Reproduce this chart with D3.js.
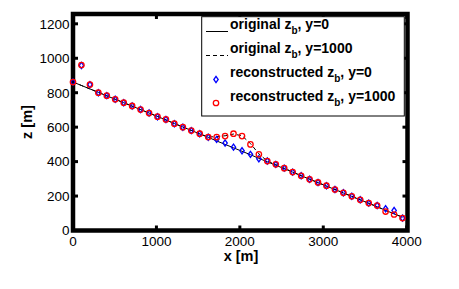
<!DOCTYPE html>
<html>
<head>
<meta charset="utf-8">
<script src="https://cdn.jsdelivr.net/npm/d3@7"></script>
<style>
  body { margin: 0; background: #fff; }
  svg { display: block; font-family: "Liberation Sans", Arial, sans-serif; }
</style>
</head>
<body>
<div id="chart"></div>
<script>
// along-profile positions (m)
var xPos = [0, 101, 203, 304, 405, 506, 608, 709, 810, 912, 1013, 1114, 1215, 1317, 1418, 1519,
    1621, 1722, 1823, 1924, 2026, 2127, 2228, 2329, 2431, 2532, 2633, 2735, 2836, 2937, 3038,
    3140, 3241, 3342, 3443, 3545, 3646, 3747, 3849, 3950];

// original bed, y=0
var zbOrig0 = [862, 842, 822, 802, 782, 762, 742, 722, 702, 682, 662, 642, 621, 601, 581, 561,
    541, 520, 500, 480, 460, 440, 419, 399, 379, 359, 339, 318, 298, 278, 258, 238,
    218, 198, 178, 158, 138, 117, 97, 77];

// original bed, y=1000 (bump near x=2000)
var zbOrig1000 = [862, 842, 822, 802, 782, 762, 742, 722, 702, 682, 662, 642, 621, 601, 581, 561,
    543, 545, 550, 560, 550, 505, 445, 403, 383, 362, 340, 318, 298, 278, 258, 238,
    218, 198, 178, 158, 138, 117, 97, 77];

// reconstructed, y=0
var zbRec0 = [862, 958, 847, 800, 783, 762, 742, 723, 702, 682, 661, 645, 620, 600, 580, 562,
    541, 529, 508, 484, 463, 442, 417, 403, 384, 362, 339, 318, 297, 279, 260, 238,
    219, 199, 178, 159, 145, 126, 116, 72];

// reconstructed, y=1000
var zbRec1000 = [862, 961, 847, 800, 783, 762, 742, 723, 702, 682, 661, 645, 620, 600, 580, 562,
    543, 543, 548, 562, 548, 500, 442, 403, 384, 362, 339, 318, 297, 279, 260, 238,
    219, 199, 178, 159, 145, 110, 93, 72];

var xTicks = [0, 1000, 2000, 3000, 4000];
var yTicks = [0, 200, 400, 600, 800, 1000, 1200];

var w = 459, h = 289;
var axL = 73, axR = 406.7, axT = 14, axB = 230.5, frameR = 407.5;

var svg = d3.select("#chart").append("svg")
    .attr("width", w)
    .attr("height", h)
    .attr("viewBox", "0 0 " + w + " " + h);

var x = d3.scaleLinear().domain([0, 4000]).range([axL, axR]);
var y = d3.scaleLinear().domain([0, 1257]).range([axB, axT]);

// frame
svg.append("rect")
    .attr("x", axL).attr("y", axT)
    .attr("width", frameR - axL).attr("height", axB - axT)
    .attr("fill", "none").attr("stroke", "#000").attr("stroke-width", 4.5);

// inward ticks on all sides
var tk = 5;
xTicks.forEach(function (t) {
    svg.append("line").attr("x1", x(t)).attr("x2", x(t)).attr("y1", axB).attr("y2", axB - tk)
        .attr("stroke", "#000").attr("stroke-width", 3);
    svg.append("line").attr("x1", x(t)).attr("x2", x(t)).attr("y1", axT).attr("y2", axT + tk)
        .attr("stroke", "#000").attr("stroke-width", 3);
});
yTicks.forEach(function (t) {
    svg.append("line").attr("x1", axL).attr("x2", axL + tk).attr("y1", y(t)).attr("y2", y(t))
        .attr("stroke", "#000").attr("stroke-width", 3);
    svg.append("line").attr("x1", frameR).attr("x2", frameR - tk).attr("y1", y(t)).attr("y2", y(t))
        .attr("stroke", "#000").attr("stroke-width", 3);
});

// tick labels
svg.append("g").selectAll("text").data(xTicks).enter().append("text")
    .attr("x", function (d) { return x(d); })
    .attr("y", 246)
    .attr("text-anchor", "middle")
    .attr("font-size", 13.5)
    .text(function (d) { return d; });

svg.append("g").selectAll("text").data(yTicks).enter().append("text")
    .attr("x", 69.5)
    .attr("y", function (d) { return y(d) + 4.8; })
    .attr("text-anchor", "end")
    .attr("font-size", 13.5)
    .text(function (d) { return d; });

// axis labels
svg.append("text")
    .attr("x", 241).attr("y", 261)
    .attr("text-anchor", "middle")
    .attr("font-size", 14.5).attr("font-weight", "bold")
    .text("x [m]");

svg.append("text")
    .attr("transform", "translate(32,122) rotate(-90)")
    .attr("text-anchor", "middle")
    .attr("font-size", 14.5).attr("font-weight", "bold")
    .text("z [m]");

// lines
var line = function (vals) {
    return d3.line()
        .x(function (d, i) { return x(xPos[i]); })
        .y(function (d) { return y(d); })(vals);
};

svg.append("path").attr("d", line(zbOrig0))
    .attr("fill", "none").attr("stroke", "#000").attr("stroke-width", 1);
svg.append("path").attr("d", line(zbOrig1000))
    .attr("fill", "none").attr("stroke", "#000").attr("stroke-width", 1)
    .attr("stroke-dasharray", "4,3");

// markers
var diamond = "M0,-3.1L2.2,0L0,3.1L-2.2,0Z";

svg.append("g").selectAll("path").data(zbRec0).enter().append("path")
    .attr("d", diamond)
    .attr("transform", function (d, i) { return "translate(" + x(xPos[i]) + "," + y(d) + ")"; })
    .attr("fill", "none").attr("stroke", "#0000ff").attr("stroke-width", 1.3);

svg.append("g").selectAll("circle").data(zbRec1000).enter().append("circle")
    .attr("cx", function (d, i) { return x(xPos[i]); })
    .attr("cy", function (d) { return y(d); })
    .attr("r", 2.7)
    .attr("fill", "none").attr("stroke", "#ff0000").attr("stroke-width", 1.3);

// legend
var lg = svg.append("g");
lg.append("rect")
    .attr("x", 201.7).attr("y", 16.7).attr("width", 202.6).attr("height", 99.3)
    .attr("fill", "#fff").attr("stroke", "#000").attr("stroke-width", 1);

var legendRows = [
    { pre: "original z", post: ", y=0", base: 29 },
    { pre: "original z", post: ", y=1000", base: 53 },
    { pre: "reconstructed z", post: ", y=0", base: 77 },
    { pre: "reconstructed z", post: ", y=1000", base: 101 }
];

legendRows.forEach(function (r) {
    var t = lg.append("text")
        .attr("x", 230).attr("y", r.base)
        .attr("font-size", 14).attr("font-weight", "bold");
    t.append("tspan").text(r.pre);
    t.append("tspan").attr("dy", 4.5).attr("font-size", 10).text("b");
    t.append("tspan").attr("dy", -4.5).text(r.post);
});

lg.append("line").attr("x1", 206).attr("x2", 228).attr("y1", 31.5).attr("y2", 31.5)
    .attr("stroke", "#000").attr("stroke-width", 1);
lg.append("line").attr("x1", 206).attr("x2", 228).attr("y1", 55.5).attr("y2", 55.5)
    .attr("stroke", "#000").attr("stroke-width", 1).attr("stroke-dasharray", "4,3");
lg.append("path").attr("d", diamond).attr("transform", "translate(216,79.5)")
    .attr("fill", "none").attr("stroke", "#0000ff").attr("stroke-width", 1.3);
lg.append("circle").attr("cx", 216).attr("cy", 103).attr("r", 2.7)
    .attr("fill", "none").attr("stroke", "#ff0000").attr("stroke-width", 1.3);
</script>
</body>
</html>
